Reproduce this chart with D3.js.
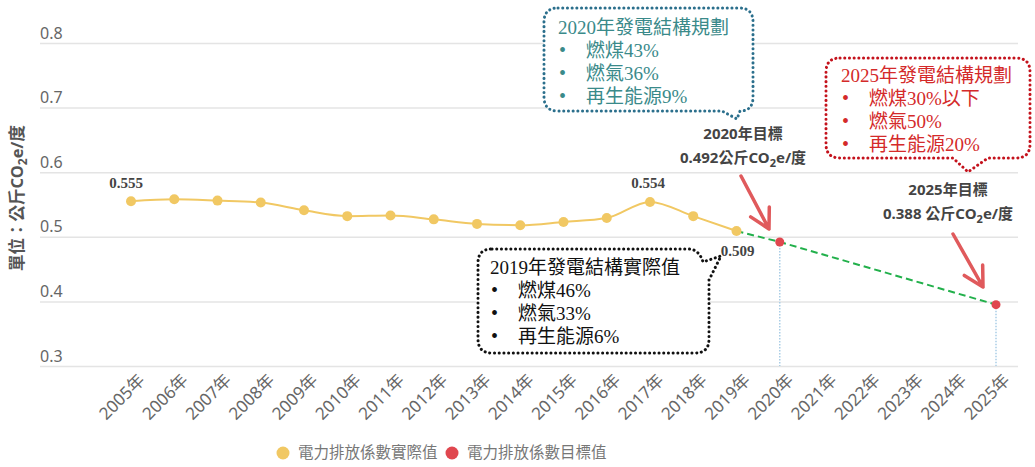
<!DOCTYPE html>
<html>
<head>
<meta charset="utf-8">
<script src="https://cdn.jsdelivr.net/npm/d3@7"></script>
<style>
  body { margin: 0; background: #fff; }
  svg { display: block; }
</style>
</head>
<body>
<script>
// chart data
const years = ["2005","2006","2007","2008","2009","2010","2011","2012","2013","2014","2015","2016","2017","2018","2019","2020","2021","2022","2023","2024","2025"];
const actualYears = ["2005","2006","2007","2008","2009","2010","2011","2012","2013","2014","2015","2016","2017","2018","2019"];
const actualValues = [0.555, 0.558, 0.556, 0.553, 0.541, 0.532, 0.533, 0.527, 0.520, 0.518, 0.523, 0.529, 0.554, 0.532, 0.509];
const targetYears = ["2020", "2025"];
const targetValues = [0.492, 0.395];
const yTicks = [0.3, 0.4, 0.5, 0.6, 0.7, 0.8];
const labeledYears = ["2005", "2017", "2019"]; // points that carry a value label
const legendNames = ["電力排放係數實際值", "電力排放係數目標值"];

const box2019 = ["2019年發電結構實際值", "燃煤46%", "燃氣33%", "再生能源6%"];
const box2020 = ["2020年發電結構規劃", "燃煤43%", "燃氣36%", "再生能源9%"];
const box2025 = ["2025年發電結構規劃", "燃煤30%以下", "燃氣50%", "再生能源20%"];

const width = 1035, height = 467;
const yellow = "#f1c863", red = "#e0474f", green = "#22b04b";
const serif = "'Liberation Serif', 'Noto Sans CJK TC', serif";
const sans = "'Noto Sans', 'Noto Sans CJK TC', sans-serif";

const svg = d3.select("body").append("svg")
    .attr("width", width)
    .attr("height", height)
    .style("background", "#fff");

const x = d3.scalePoint().domain(years).range([131, 996]);
const y = d3.scaleLinear().domain([0.3, 0.8]).range([366, 43]);

// gridlines + y labels (labels sit above each line)
const yAxis = svg.append("g")
    .attr("transform", "translate(40,0)")
    .call(d3.axisLeft(y).tickValues(yTicks).tickSize(-978).tickFormat(d3.format(".1f")));
yAxis.select(".domain").remove();
yAxis.selectAll("line").attr("stroke", "#e4e4e4").attr("stroke-width", 1.5);
yAxis.selectAll("text")
    .attr("x", 0).attr("dy", -5)
    .attr("text-anchor", "start")
    .attr("fill", "#666")
    .style("font-family", sans).style("font-size", "16px");

// x axis, rotated labels
const xAxis = svg.append("g")
    .attr("transform", "translate(0,366)")
    .call(d3.axisBottom(x).tickSize(0).tickFormat(d => d + "年"));
xAxis.select(".domain").remove();
xAxis.selectAll("text")
    .attr("transform", "translate(8,9) rotate(-45)")
    .attr("dy", "0.35em")
    .attr("text-anchor", "end")
    .attr("fill", "#666")
    .style("font-family", sans).style("font-size", "17px");

// y title
svg.append("text")
    .attr("transform", "translate(23,198) rotate(-90)")
    .attr("text-anchor", "middle")
    .attr("fill", "#555")
    .style("font-family", sans).style("font-size", "16.5px").style("font-weight", "bold")
    .call(t => {
        t.append("tspan").text("單位：公斤CO");
        t.append("tspan").attr("dy", 4).style("font-size", "12px").text("2");
        t.append("tspan").attr("dy", -4).text("e/度");
    });

const actual = actualYears.map((d, i) => ({ year: d, value: actualValues[i] }));
const target = targetYears.map((d, i) => ({ year: d, value: targetValues[i] }));

// vertical dotted drops from the target points
svg.selectAll(".drop")
    .data(target)
    .join("line")
    .attr("x1", d => x(d.year)).attr("x2", d => x(d.year))
    .attr("y1", d => y(d.value)).attr("y2", y(0.3))
    .attr("stroke", "#a9cde6").attr("stroke-width", 1.5)
    .attr("stroke-dasharray", "1.5,1.5");

// green dashed projection
const proj = [actual[actual.length - 1]].concat(target);
svg.append("path")
    .datum(proj)
    .attr("fill", "none")
    .attr("stroke", green).attr("stroke-width", 2)
    .attr("stroke-dasharray", "7,4")
    .attr("d", d3.line().x(d => x(d.year)).y(d => y(d.value)));

// actual line
svg.append("path")
    .datum(actual)
    .attr("fill", "none")
    .attr("stroke", yellow).attr("stroke-width", 2)
    .attr("d", d3.line().curve(d3.curveMonotoneX).x(d => x(d.year)).y(d => y(d.value)));

svg.selectAll(".pt")
    .data(actual)
    .join("circle")
    .attr("cx", d => x(d.year)).attr("cy", d => y(d.value))
    .attr("r", 5).attr("fill", yellow);

svg.selectAll(".tp")
    .data(target)
    .join("circle")
    .attr("cx", d => x(d.year)).attr("cy", d => y(d.value))
    .attr("r", 4.5).attr("fill", red);

// value labels
const labelOffsets = { "2005": [-5, -13], "2017": [-2, -14], "2019": [1, 25] };
svg.selectAll(".vl")
    .data(actual.filter(d => labeledYears.includes(d.year)))
    .join("text")
    .attr("x", d => x(d.year) + labelOffsets[d.year][0])
    .attr("y", d => y(d.value) + labelOffsets[d.year][1])
    .attr("text-anchor", "middle")
    .attr("fill", "#444")
    .style("font-family", serif).style("font-size", "15px").style("font-weight", "bold")
    .text(d => d3.format(".3f")(d.value));

// red arrows
function arrow(x1, y1, x2, y2) {
    const a = Math.atan2(y2 - y1, x2 - x1), L = 22, s = 0.5;
    const p = (ang) => [x2 - L * Math.cos(ang), y2 - L * Math.sin(ang)];
    const [ax, ay] = p(a - s), [bx, by] = p(a + s);
    svg.append("path")
        .attr("d", `M${x1},${y1}L${x2},${y2}M${ax},${ay}L${x2},${y2}L${bx},${by}`)
        .attr("fill", "none").attr("stroke", "#e05a5c").attr("stroke-width", 3.5)
        .attr("stroke-linecap", "round").attr("stroke-linejoin", "round");
}
arrow(741, 176, 769, 229);
arrow(953, 234, 983, 287);

// target annotations
function targetNote(cx, cy, head, val) {
    const g = svg.append("g").attr("fill", "#444")
        .style("font-family", sans).style("font-size", "15px").style("font-weight", "bold")
        .attr("text-anchor", "middle");
    g.append("text").attr("x", cx).attr("y", cy).text(head);
    g.append("text").attr("x", cx).attr("y", cy + 24).call(t => {
        t.append("tspan").text(val + "公斤CO");
        t.append("tspan").attr("dy", 4).style("font-size", "11px").text("2");
        t.append("tspan").attr("dy", -4).text("e/度");
    });
}
targetNote(743, 139, "2020年目標", "0.492");
targetNote(948, 195, "2025年目標", "0.388 ");

// callout boxes
function callout(d, lines, tx, ty, stroke, textColor) {
    svg.append("path")
        .attr("d", d)
        .attr("fill", "#fff")
        .attr("stroke", stroke).attr("stroke-width", 3)
        .attr("stroke-dasharray", "0.1,4.6").attr("stroke-linecap", "round");
    const g = svg.append("g").attr("fill", textColor)
        .style("font-family", serif).style("font-size", "19px");
    g.append("text").attr("x", tx).attr("y", ty).text(lines[0]);
    lines.slice(1).forEach((s, i) => {
        g.append("text").attr("x", tx + 1).attr("y", ty + 23 * (i + 1)).style("font-size", "20px").text("•");
        g.append("text").attr("x", tx + 28).attr("y", ty + 23 * (i + 1)).text(s);
    });
}
callout("M492,249H688Q699,249 703,262L721,256L709,280V339Q709,353 695,353H492Q478,353 478,339V263Q478,249 492,249Z",
    box2019, 490, 274, "#111", "#111");
callout("M558,8H739Q753,8 753,22V97Q753,111 740,111L737,119L722,111H558Q544,111 544,97V22Q544,8 558,8Z",
    box2020, 558, 34, "#2b6f8c", "#3a8a8a");
callout("M840,58H1016Q1030,58 1030,72V144Q1030,158 1016,158H988L968,172L953,158H840Q826,158 826,144V72Q826,58 840,58Z",
    box2025, 841, 82, "#c4121c", "#d42a2a");

// legend
const legend = svg.append("g")
    .style("font-family", sans).style("font-size", "15.5px");
[[283, yellow], [452, red]].forEach(([lx, c], i) => {
    legend.append("circle").attr("cx", lx).attr("cy", 453).attr("r", 6.5).attr("fill", c);
    legend.append("text").attr("x", lx + 15).attr("y", 458).attr("fill", "#777").text(legendNames[i]);
});
</script>
</body>
</html>
